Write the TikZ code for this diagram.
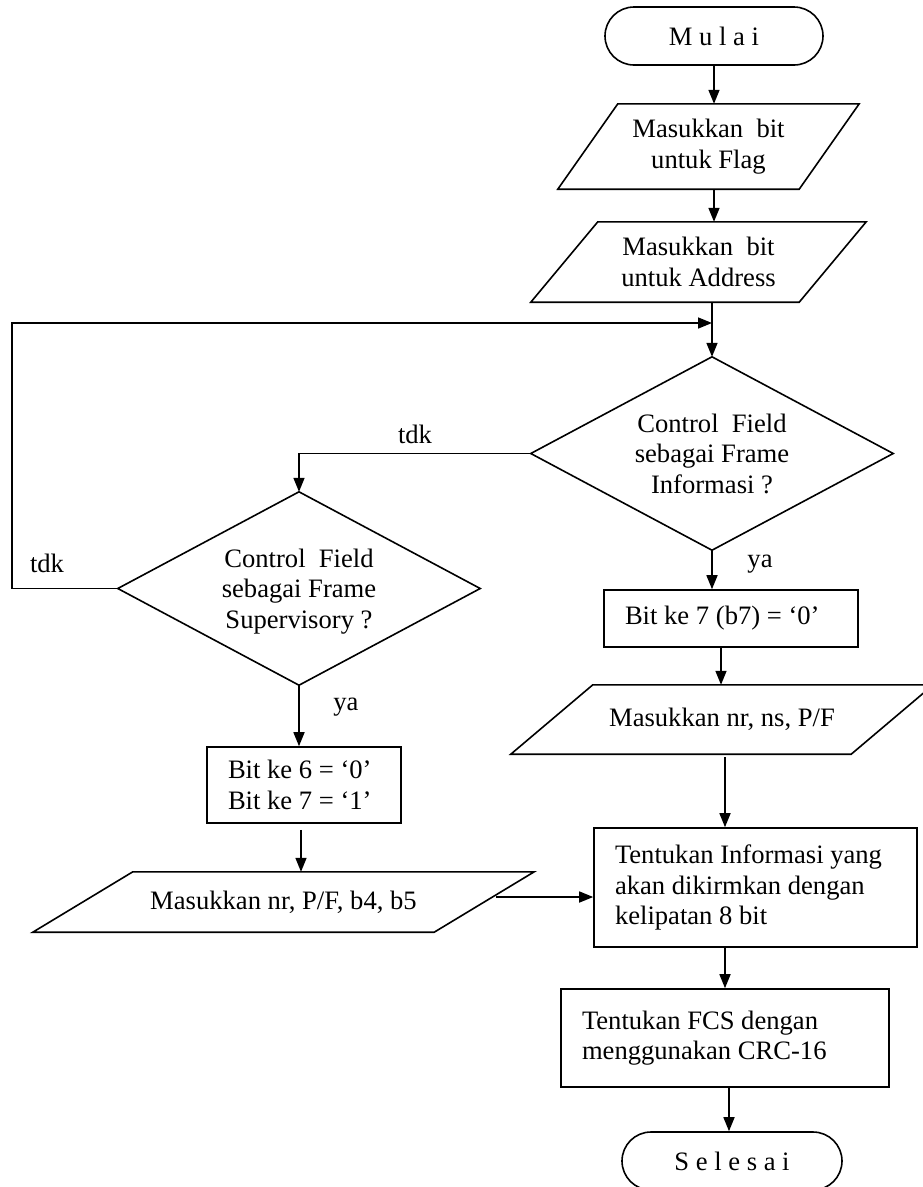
\documentclass[tikz,border=0pt]{standalone}
\usepackage{fontspec}
\setmainfont{Liberation Serif}
\usetikzlibrary{arrows.meta}
\newcommand\drawpara[2]{\draw[ln] ([xshift=#2]#1.north west) -- (#1.north east) -- ([xshift=-#2]#1.south east) -- (#1.south west) -- cycle;}
\newcommand\drawdia[1]{\draw[ln] (#1.north) -- (#1.east) -- (#1.south) -- (#1.west) -- cycle;}
\begin{document}
\begin{tikzpicture}[x=1pt,y=-1pt,
  every node/.style={font=\fontsize{26.6}{30.5}\selectfont},
  ln/.style={line width=1.6pt, line join=miter},
  arr/.style={ln, -{Triangle[length=14pt,width=11pt]}},
  term/.style={draw, line width=1.6pt, rectangle, rounded corners=29pt, minimum width=#1, minimum height=58pt, inner sep=0pt},
  bbox/.style={rectangle, inner sep=0pt, align=center},
  procbox/.style={draw, line width=1.6pt, rectangle, inner xsep=21pt, inner ysep=0pt, align=flush left},
  lbl/.style={inner sep=0pt}]
\useasboundingbox (0,0) rectangle (922,1187);
\fill[white] (0,0) rectangle (922,1187);

% right column
\node[term=218pt] (mulai) at (714,36) {M u l a i};
\node[bbox, minimum width=301pt, minimum height=85pt] (flag) at (708.5,146.5) {Masukkan\ \ bit\\untuk Flag};
\drawpara{flag}{60pt}
\node[bbox, minimum width=335pt, minimum height=80pt] (addr) at (698.5,262) {Masukkan\ \ bit\\untuk Address};
\drawpara{addr}{67pt}
\node[bbox, minimum width=362pt, minimum height=193pt] (infod) at (712,453.5) {Control\ \ Field\\sebagai Frame\\Informasi ?};
\drawdia{infod}
\node[procbox, text width=212pt, minimum height=57pt] (b7) at (731,618.5) {Bit ke 7 (b7) = ‘0’};
\node[bbox, minimum width=422pt, minimum height=69pt] (ns) at (722,719.5) {Masukkan nr, ns, P/F};
\drawpara{ns}{82pt}
\node[procbox, text width=281pt, minimum height=119pt] (info) at (755.5,887.5) {Tentukan Informasi yang\\akan dikirmkan dengan\\kelipatan 8 bit};
\node[procbox, text width=286pt, minimum height=98pt] (fcs) at (725,1038) {Tentukan FCS dengan\\menggunakan CRC-16\\[4pt]};
\node[term=220pt] (selesai) at (732,1161) {S e l e s a i};

% left column
\node[bbox, minimum width=362pt, minimum height=193pt] (supd) at (299,588.5) {\\[-6pt]Control\ \ Field\\sebagai Frame\\Supervisory ?};
\drawdia{supd}
\node[procbox, text width=152pt, minimum height=76pt] (b6) at (304,785) {Bit ke 6 = ‘0’\\Bit ke 7 = ‘1’};
\node[bbox, minimum width=501pt, minimum height=60pt] (b5) at (283.5,902) {Masukkan nr, P/F, b4, b5};
\drawpara{b5}{100pt}

% labels
\node[lbl] (tdk1) at (415,434) {tdk};
\node[lbl] (tdk2) at (47,563) {tdk};
\node[lbl] (ya1) at (760,564) {ya};
\node[lbl] (ya2) at (346,707) {ya};

% connectors
\coordinate (join) at (712,323);
\coordinate (b5out) at ([xshift=-38pt,yshift=5pt]b5.east);
\draw[arr] (mulai.south) -- (mulai.south |- flag.north);
\draw[arr] (mulai.south |- flag.south) -- (mulai.south |- addr.north);
\draw[arr] (infod.north |- addr.south) -- (infod.north);
\draw[arr] (supd.west) -- ++(-106,0) |- (join);
\draw[arr] (infod.west) -| (supd.north);
\draw[arr] (infod.south) -- (infod.south |- b7.north);
\draw[arr] ([xshift=-10pt]b7.south) -- ([xshift=-10pt]b7.south |- ns.north);
\draw[arr] ([xshift=3pt,yshift=-3pt]ns.south) -- ([xshift=3pt]ns.south |- info.north);
\draw[arr] ([xshift=-30.5pt]info.south) -- ([xshift=-30.5pt]info.south |- fcs.north);
\draw[arr] ([xshift=4pt]fcs.south) -- ([xshift=4pt]fcs.south |- selesai.north);
\draw[arr] (supd.south) -- (supd.south |- b6.north);
\draw[arr, shorten <=6pt] ([xshift=-3pt]b6.south) -- ([xshift=-3pt]b6.south |- b5.north);
\draw[arr] (b5out) -- (b5out -| info.west);
\end{tikzpicture}
\end{document}
